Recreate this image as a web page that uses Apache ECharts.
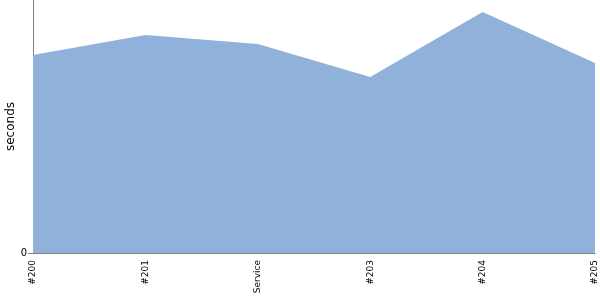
<!DOCTYPE html>
<html><head><meta charset="utf-8">
<script src="https://cdn.jsdelivr.net/npm/echarts@6/dist/echarts.min.js"></script>
<style>html,body{margin:0;padding:0;background:#fff}#c{width:600px;height:300px}</style>
</head><body><div id="c"></div>
<script>
const categories = ['#200', '#201', 'Service', '#203', '#204', '#205'];
const seconds = [198, 218, 209, 176, 241, 190];
const yMax = 253;
const yTicks = [0];

const chart = echarts.init(document.getElementById('c'), null, {renderer: 'canvas'});
chart.setOption({
  animation: false,
  grid: {left: 33, right: 5, top: 0, bottom: 47, containLabel: false, outerBoundsMode: 'none'},
  xAxis: {
    type: 'category', data: categories, boundaryGap: false,
    axisLine: {lineStyle: {color: '#808080', width: 1}},
    axisTick: {show: false},
    axisLabel: {rotate: 90, fontSize: 9, color: '#000', fontFamily: 'DejaVu Sans', margin: 7, interval: 0}
  },
  yAxis: {
    type: 'value', min: 0, max: yMax,
    name: 'seconds', nameLocation: 'middle', nameGap: 16, nameRotate: 90, nameMoveOverlap: false,
    nameTextStyle: {fontSize: 12, color: '#000', fontFamily: 'DejaVu Sans'},
    axisLine: {show: true, lineStyle: {color: '#808080', width: 1}},
    axisTick: {show: true, length: 5, lineStyle: {color: '#808080'}, customValues: yTicks},
    splitLine: {show: false},
    axisLabel: {fontSize: 10, color: '#000', fontFamily: 'DejaVu Sans', margin: 6, customValues: yTicks}
  },
  series: [{
    type: 'line', data: seconds, symbol: 'none',
    lineStyle: {width: 0},
    areaStyle: {color: '#8fb1da', opacity: 1}
  }]
});
</script></body></html>
